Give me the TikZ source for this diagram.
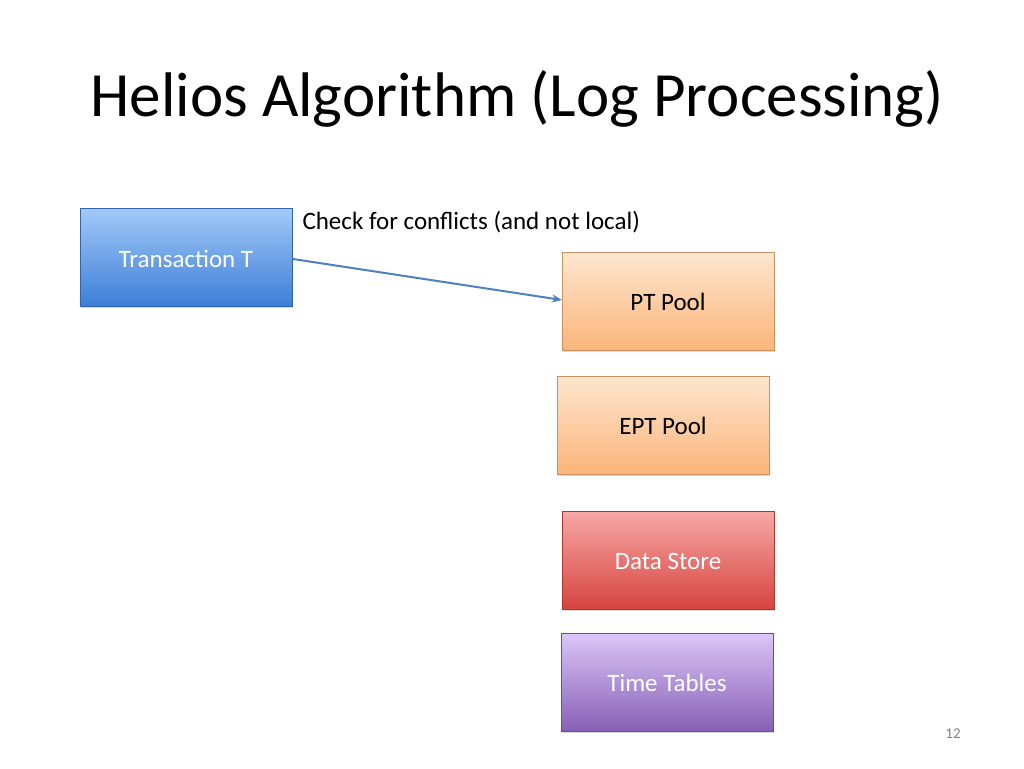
\documentclass[tikz,border=0pt]{standalone}
\usepackage{fontspec}
\setmainfont{Carlito}
\usetikzlibrary{shadows,arrows.meta}
\begin{document}
\begin{tikzpicture}[x=1pt,y=-1pt,
 box/.style={minimum width=212pt,minimum height=98pt,inner sep=0pt,drop shadow={opacity=0.3,shadow xshift=1pt,shadow yshift=-2pt},draw=#1!80!black,line width=0.5pt},
 lbl/.style={font=\fontsize{25}{28}\selectfont},
]
\useasboundingbox (0,0) rectangle (1024,768);
\definecolor{bA}{HTML}{A3C9F8}\definecolor{bB}{HTML}{3C7ED8}
\definecolor{oA}{HTML}{FDE6CF}\definecolor{oB}{HTML}{FBB57A}
\definecolor{rA}{HTML}{F7A8A6}\definecolor{rB}{HTML}{D6443F}
\definecolor{pA}{HTML}{DCC6F8}\definecolor{pB}{HTML}{8660B5}
\definecolor{arr}{HTML}{4F81BD}
\node[anchor=base west,font=\fontsize{63}{66}\selectfont] (title) at (87,116) {Helios Algorithm (Log Processing)};
\node[box=bB,top color=bA,bottom color=bB,anchor=north west] (t) at (80,208) {};
\node[lbl,text=white] (tl) at (186,259) {Transaction T};
\node[box=oB,top color=oA,bottom color=oB,anchor=north west] (pt) at (562,252) {};
\node[lbl] (ptl) at (668,302) {PT Pool};
\node[box=oB,top color=oA,bottom color=oB,anchor=north west] (ept) at (557,376) {};
\node[lbl] (eptl) at (663,426) {EPT Pool};
\node[box=rB,top color=rA,bottom color=rB,anchor=north west] (ds) at (562,511) {};
\node[lbl,text=white] (dsl) at (668,561) {Data Store};
\node[box=pB,top color=pA,bottom color=pB,anchor=north west] (tt) at (561,633) {};
\node[lbl,text=white] (ttl) at (667,683) {Time Tables};
\coordinate (a1) at (293,259);
\coordinate (a2) at (562,300);
\draw[arr,line width=2pt,-{Stealth[length=10pt,width=8pt]}] (a1) -- (a2);
\node[anchor=west,font=\fontsize{25}{28}\selectfont] (chk) at (299,222) {Check for conflicts (and not local)};
\node[text=gray,font=\fontsize{15}{16}\selectfont] (pg) at (953,734) {12};
\end{tikzpicture}
\end{document}
